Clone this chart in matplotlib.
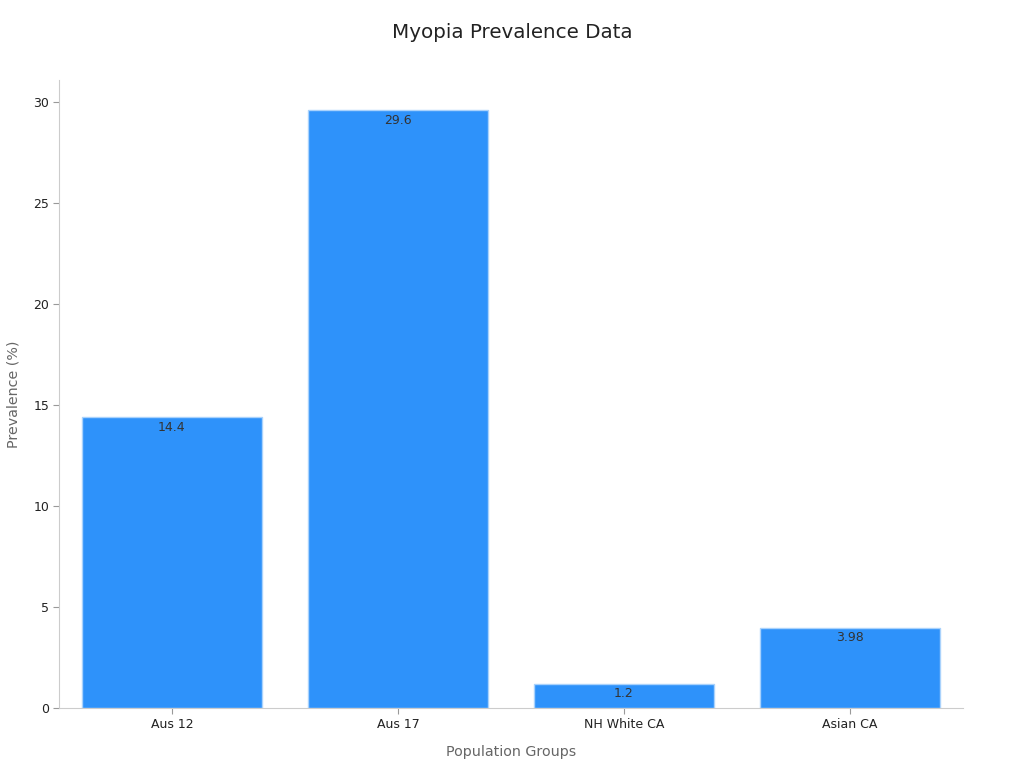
import matplotlib
matplotlib.use("Agg")
import matplotlib.pyplot as plt

categories = ["Aus 12", "Aus 17", "NH White CA", "Asian CA"]
values = [14.4, 29.6, 1.2, 3.98]
value_labels = ["14.4", "29.6", "1.2", "3.98"]

fig = plt.figure(figsize=(10.24, 7.68), dpi=100)
ax = fig.add_axes([0.0576, 0.078, 0.8828, 0.818])

bars = ax.bar(range(len(categories)), values, width=0.8, color="#2E92FA",
              edgecolor="#A9D2FC", linewidth=1.0, zorder=2)
for b, lab in zip(bars, value_labels):
    ax.annotate(lab, (b.get_x() + b.get_width() / 2, b.get_height()),
                xytext=(0, -2.5), textcoords="offset points", ha="center", va="top",
                fontsize=9, color="#333333", zorder=3)

ax.set_xlim(-0.5, 3.5)
ax.set_ylim(0, 31.1)
ax.set_xticks(range(len(categories)))
ax.set_xticklabels(categories)
ax.set_yticks([0, 5, 10, 15, 20, 25, 30])
ax.tick_params(axis="both", labelsize=9, labelcolor="#222222", color="#999999", length=4, pad=3)

for s in ["top", "right"]:
    ax.spines[s].set_visible(False)
for s in ["left", "bottom"]:
    ax.spines[s].set_color("#cccccc")

ax.set_xlabel("Population Groups", fontsize=10.3, color="#666666", labelpad=10)
ax.set_ylabel("Prevalence (%)", fontsize=10.3, color="#666666", labelpad=9)
fig.suptitle("Myopia Prevalence Data", fontsize=14.3, color="#222222", y=0.97)

fig.savefig("out.png", dpi=100)
